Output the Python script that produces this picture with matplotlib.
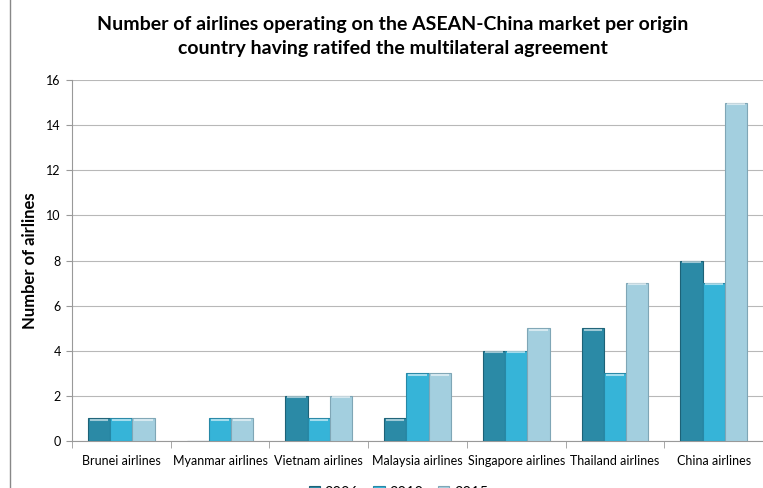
import numpy as np
import matplotlib
matplotlib.use("Agg")
import matplotlib.pyplot as plt
from matplotlib.lines import Line2D

# Data
categories = ["Brunei airlines", "Myanmar airlines", "Vietnam airlines",
              "Malaysia airlines", "Singapore airlines", "Thailand airlines",
              "China airlines"]
years = ["2006", "2010", "2015"]
v2006 = [1, 0, 2, 1, 4, 5, 8]
v2010 = [1, 1, 1, 3, 4, 3, 7]
v2015 = [1, 1, 2, 3, 5, 7, 15]
series = [v2006, v2010, v2015]
colors = ["#2b8aa6", "#36b4d8", "#a3cfdf"]
edges = ["#1d6277", "#2688a6", "#7fa6b6"]

plt.rcParams['font.family'] = ['Lato', 'DejaVu Sans']

fig = plt.figure(figsize=(7.63, 4.88), dpi=100)
ax = fig.add_axes([0.0944, 0.0963, 0.9056, 0.7397])

x = np.arange(len(categories))
w = 0.225
for i, vals in enumerate(series):
    xs = x + (i - 1) * w
    ax.bar(xs, vals, width=w, color=colors[i], edgecolor=edges[i],
           linewidth=0.8, label=years[i], zorder=3)
    # light cap on the top of each bar
    for xi, v in zip(xs, vals):
        if v > 0:
            ax.plot([xi - w / 2 + 0.02, xi + w / 2 - 0.02], [v - 0.06, v - 0.06],
                    color="white", alpha=0.55, lw=1.5, zorder=4,
                    solid_capstyle="butt")

ax.set_xlim(-0.5, len(categories) - 0.5)
ax.set_ylim(0, 16)
ax.set_yticks(range(0, 17, 2))
ax.yaxis.grid(True, color="#b8b8b8", lw=0.8, zorder=0)
ax.set_axisbelow(True)

ax.set_xticks(x)
ax.set_xticklabels(categories, fontsize=9)
ax.tick_params(axis="x", length=0, pad=10)
ax.set_xticks(np.arange(-0.5, len(categories), 1), minor=True)
ax.tick_params(axis="x", which="minor", length=5, color="#999999")
ax.tick_params(axis="y", labelsize=9, length=4, color="#999999", pad=4)

for s in ["top", "right"]:
    ax.spines[s].set_visible(False)
ax.spines["left"].set_color("#999999")
ax.spines["bottom"].set_color("#999999")

ax.set_ylabel("Number of airlines", fontsize=12, fontweight="bold", labelpad=6)

fig.text(0.515, 0.925,
         "Number of airlines operating on the ASEAN-China market per origin\n"
         "country having ratifed the multilateral agreement",
         ha="center", va="center", fontsize=14, fontweight="bold",
         linespacing=1.45)

# left border of the chart frame
fig.add_artist(Line2D([0.0131, 0.0131], [0, 1], color="#888888", lw=1))

ax.legend(loc="center", bbox_to_anchor=(0.522, -0.01),
          bbox_transform=fig.transFigure, ncol=3, frameon=False,
          fontsize=10.5, handlelength=0.8, handleheight=0.8,
          columnspacing=1.0, handletextpad=0.3)

fig.savefig("out.png", dpi=100)
